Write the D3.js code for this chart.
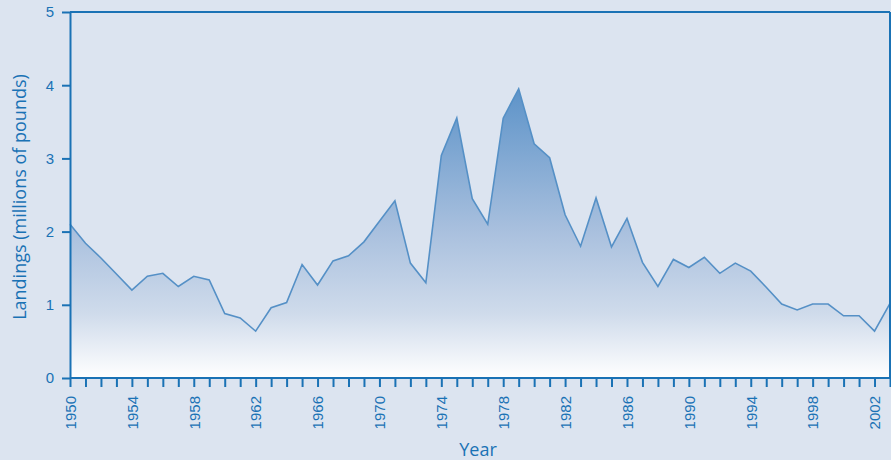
<!DOCTYPE html>
<html>
  <head>
    <style>
      body { margin: 0; background: #dce4f0; }
      svg { display: block; font-family: "Open Sans", sans-serif; }
      .axis path, .axis line { stroke: #1a72b5; stroke-width: 2; }
      .axis text { fill: #1a72b5; font-size: 15px; }
      .label { fill: #1a72b5; font-size: 18px; }
    </style>
    <script src="https://cdn.jsdelivr.net/npm/d3@7"></script>
  </head>
  <body>
    <svg id="chart" width="891" height="460"></svg>
    <script>
      const years = d3.range(1950, 2004);
      const landings = [
        2.10, 1.84, 1.64, 1.42, 1.20, 1.39, 1.43, 1.25, 1.39, 1.34,
        0.88, 0.82, 0.64, 0.96, 1.03, 1.55, 1.27, 1.60, 1.67, 1.86,
        2.14, 2.42, 1.57, 1.30, 3.04, 3.55, 2.45, 2.10, 3.55, 3.95,
        3.20, 3.01, 2.23, 1.80, 2.46, 1.79, 2.18, 1.58, 1.25, 1.62,
        1.51, 1.65, 1.43, 1.57, 1.46, 1.24, 1.01, 0.93, 1.01, 1.01,
        0.85, 0.85, 0.64, 1.02
      ];
      const yTicks = [0, 1, 2, 3, 4, 5];
      const xLabelYears = d3.range(1950, 2004, 4);

      const data = years.map((yr, i) => ({ year: yr, value: landings[i] }));

      const svg = d3.select("#chart");
      const mLeft = 70, mRight = 890, mTop = 12, mBottom = 378;

      const x = d3.scaleLinear().domain([1950, 2003]).range([mLeft, mRight]);
      const y = d3.scaleLinear().domain([0, 5]).range([mBottom, mTop]);

      // gradient: darker blue at top, fading to white at the baseline
      const grad = svg.append("defs").append("linearGradient")
        .attr("id", "fade")
        .attr("gradientUnits", "userSpaceOnUse")
        .attr("x1", 0).attr("x2", 0)
        .attr("y1", y(4)).attr("y2", y(0));
      grad.append("stop").attr("offset", "0%").attr("stop-color", "#5b92c8");
      grad.append("stop").attr("offset", "50%").attr("stop-color", "#a9c0de");
      grad.append("stop").attr("offset", "78%").attr("stop-color", "#cfdbeb");
      grad.append("stop").attr("offset", "100%").attr("stop-color", "#ffffff");

      const area = d3.area()
        .x(d => x(d.year))
        .y0(y(0))
        .y1(d => y(d.value));

      const line = d3.line()
        .x(d => x(d.year))
        .y(d => y(d.value));

      svg.append("path")
        .datum(data)
        .attr("d", area)
        .attr("fill", "url(#fade)");

      svg.append("path")
        .datum(data)
        .attr("d", line)
        .attr("fill", "none")
        .attr("stroke", "#5590c6")
        .attr("stroke-width", 1.6)
        .attr("stroke-linejoin", "miter");

      // frame top and right
      svg.append("line")
        .attr("x1", mLeft).attr("x2", mRight)
        .attr("y1", mTop).attr("y2", mTop)
        .attr("stroke", "#1a72b5").attr("stroke-width", 2);
      svg.append("line")
        .attr("x1", mRight).attr("x2", mRight)
        .attr("y1", mTop).attr("y2", mBottom)
        .attr("stroke", "#1a72b5").attr("stroke-width", 2);

      // y axis
      svg.append("g")
        .attr("class", "axis")
        .attr("transform", `translate(${mLeft},0)`)
        .call(d3.axisLeft(y)
          .tickValues(yTicks)
          .tickFormat(d3.format("d"))
          .tickSize(8).tickPadding(8).tickSizeOuter(0));

      // x axis: a tick every year, labels every 4 years
      const xAxis = svg.append("g")
        .attr("class", "axis")
        .attr("transform", `translate(0,${mBottom})`)
        .call(d3.axisBottom(x)
          .tickValues(years)
          .tickSize(9)
          .tickSizeOuter(0)
          .tickFormat(d => xLabelYears.includes(d) ? d : ""));
      xAxis.select(".domain").attr("d", `M${mLeft},0H${mRight + 1}`);
      xAxis.selectAll("text")
        .attr("transform", "rotate(-90)")
        .attr("text-anchor", "end")
        .attr("x", -18)
        .attr("y", 0)
        .attr("dy", "0.35em");

      svg.append("text")
        .attr("class", "label")
        .attr("text-anchor", "middle")
        .attr("transform", `translate(26,197) rotate(-90)`)
        .text("Landings (millions of pounds)");

      svg.append("text")
        .attr("class", "label")
        .attr("text-anchor", "middle")
        .attr("x", 478)
        .attr("y", 456)
        .text("Year");
    </script>
  </body>
</html>
